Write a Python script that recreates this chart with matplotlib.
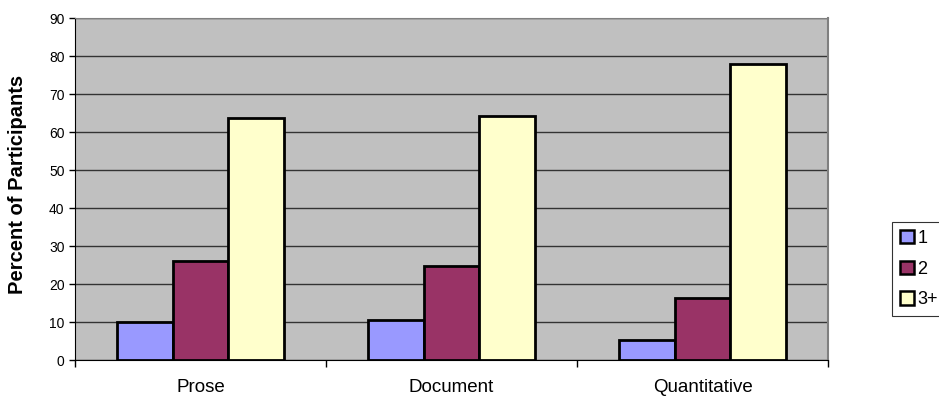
import numpy as np
import matplotlib.pyplot as plt
from matplotlib.patches import Patch

plt.rcParams['font.family'] = ['Liberation Sans', 'DejaVu Sans']

categories = ['Prose', 'Document', 'Quantitative']
series_names = ['1', '2', '3+']
vals_1 = [9.9, 10.6, 5.3]
vals_2 = [26.0, 24.8, 16.4]
vals_3 = [63.8, 64.3, 77.9]
colors = ['#9999FF', '#993366', '#FFFFCC']

fig = plt.figure(figsize=(9.39, 4), dpi=100)
ax = fig.add_axes([75 / 939, 40 / 400, 753 / 939, 342 / 400])
ax.set_facecolor('#C0C0C0')

x = np.arange(len(categories))
w = 1 / 4.5
for i, (vals, c) in enumerate(zip([vals_1, vals_2, vals_3], colors)):
    ax.bar(x + (i - 1) * w, vals, width=w, color=c, edgecolor='black', linewidth=2, zorder=3)

ax.set_xlim(-0.5, len(categories) - 0.5)
ax.set_ylim(0, 90)
ax.set_yticks(range(0, 91, 10))
ax.tick_params(axis='y', labelsize=10, length=4, direction='out', width=1)
ax.yaxis.grid(True, color='#333333', linewidth=1, zorder=1)

ax.set_xticks(x)
ax.set_xticklabels(categories, fontsize=13.5)
ax.tick_params(axis='x', length=0, pad=14)
ax.set_xticks(np.arange(-0.5, len(categories), 1), minor=True)
ax.tick_params(axis='x', which='minor', length=5, width=1, direction='out')

ax.spines['left'].set_color('black')
ax.spines['bottom'].set_color('black')
ax.spines['right'].set_color('#808080')
ax.spines['right'].set_linewidth(1.5)
ax.spines['top'].set_color('#808080')

ax.text(18 / 939, 0.54, 'Percent of Participants', transform=fig.transFigure,
        rotation=90, ha='center', va='center', fontsize=14.5, fontweight='bold')

handles = [Patch(facecolor=c, edgecolor='black', linewidth=1.8) for c in colors]
leg = fig.legend(handles, series_names, loc='upper left', bbox_to_anchor=(892 / 939, 1 - 222 / 400),
                 fontsize=13, frameon=True, fancybox=False, edgecolor='black',
                 handlelength=0.75, handleheight=0.75, handletextpad=0.2, borderpad=0.45,
                 labelspacing=0.75, borderaxespad=0)
leg.get_frame().set_linewidth(0.8)

fig.savefig('out.png', dpi=100)
